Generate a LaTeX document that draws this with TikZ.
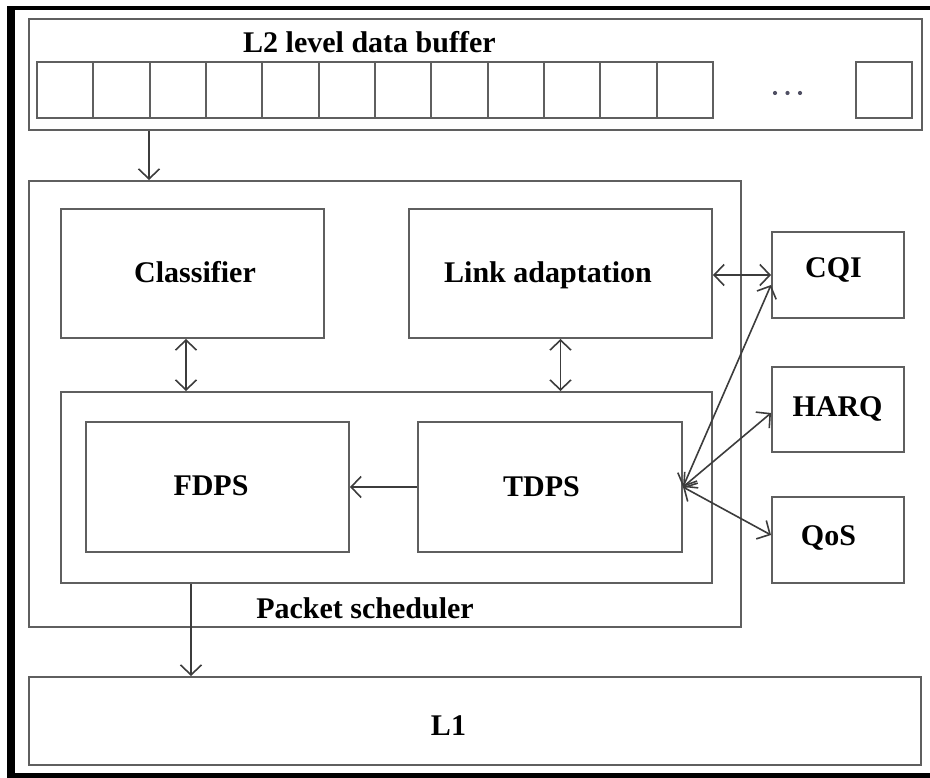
\documentclass[tikz,border=0pt]{standalone}
\usepackage{fontspec}
\setmainfont{Liberation Serif}
\usetikzlibrary{arrows.meta}
\definecolor{boxline}{RGB}{95,95,95}
\definecolor{arrline}{RGB}{60,60,60}
\definecolor{dotcol}{RGB}{80,80,100}
\tikzset{
  box/.style={draw=boxline, line width=2pt, inner sep=0pt, rectangle},
  lbl/.style={font=\fontsize{30}{36}\selectfont\bfseries, inner sep=0pt, anchor=base},
  arr/.style={draw=arrline, line width=1.6pt, -{Straight Barb[length=10pt,width=21pt,line width=1.6pt]}},
  darr/.style={draw=arrline, line width=1.6pt, {Straight Barb[length=10pt,width=21pt,line width=1.6pt]}-{Straight Barb[length=10pt,width=21pt,line width=1.6pt]}},
}
\begin{document}
\begin{tikzpicture}[x=1pt,y=-1pt]
\useasboundingbox (0,0) rectangle (930,778);
% outer black frame
\fill[black] (7,6) rectangle (15,778);
\fill[black] (7,6) rectangle (930,10);
\fill[black] (7,773) rectangle (930,778);

% L2 buffer
\node[box, minimum width=893pt, minimum height=111pt] (buf) at (475.5,74.5) {};
\node[lbl, anchor=base west] (buftxt) at (243,53) {L2 level data buffer};
\foreach \i in {0,...,11} {
  \node[box, minimum width=56.33pt, minimum height=56pt] (cell\i) at ({37+56.33*\i+28.17},90) {};
}
\node[box, minimum width=56pt, minimum height=56pt] (celln) at (884,90) {};
\foreach \dx in {775,787.5,800} \fill[dotcol] (\dx,93) circle (2.1pt);

% packet scheduler
\node[box, minimum width=712pt, minimum height=446pt] (sched) at (385,404) {};
\node[lbl] (schedtxt) at (365,618) {Packet scheduler};
\node[box, minimum width=263pt, minimum height=129pt] (cls) at (192.5,273.5) {};
\node[lbl] at (195,283) {Classifier};
\node[box, minimum width=303pt, minimum height=129pt] (link) at (560.5,273.5) {};
\node[lbl] at (548,283) {Link adaptation};
\node[box, minimum width=651pt, minimum height=191pt] (inner) at (386.5,487.5) {};
\node[box, minimum width=263pt, minimum height=130pt] (fdps) at (217.5,487) {};
\node[lbl] at (211,495.5) {FDPS};
\node[box, minimum width=264pt, minimum height=130pt] (tdps) at (550,487) {};
\node[lbl] at (541.5,496.5) {TDPS};

% side boxes
\node[box, minimum width=132pt, minimum height=86pt] (cqi) at (838,275) {};
\node[lbl] at (833.5,278) {CQI};
\node[box, minimum width=132pt, minimum height=85pt] (harq) at (838,409.5) {};
\node[lbl] at (837.5,417) {HARQ};
\node[box, minimum width=132pt, minimum height=86pt] (qos) at (838,540) {};
\node[lbl] at (828.5,545) {QoS};

% L1
\node[box, minimum width=892pt, minimum height=88pt] (l1) at (475,721) {};
\node[lbl] at (448.5,735) {L1};

% connectors
\draw[arr] ([xshift=121pt]buf.south west) -- ([xshift=121pt]sched.north west);
\coordinate (cA) at ([xshift=-6.5pt]cls.south);
\draw[darr] (cA) -- (cA |- inner.north);
\draw[darr] (link.south) -- (link.south |- inner.north);
\draw[arr] (tdps.west) -- (fdps.east);
\draw[darr] (link.east |- cqi.west) -- (cqi.west);
\draw[darr] (tdps.east) -- ([yshift=-10pt]cqi.west);
\draw[darr] (tdps.east) -- ([yshift=-3.5pt]harq.west);
\draw[darr] (tdps.east) -- ([yshift=5pt]qos.west);
\coordinate (cB) at ([xshift=131pt]inner.south west);
\draw[arr] (cB) -- (cB |- l1.north);
\end{tikzpicture}
\end{document}
